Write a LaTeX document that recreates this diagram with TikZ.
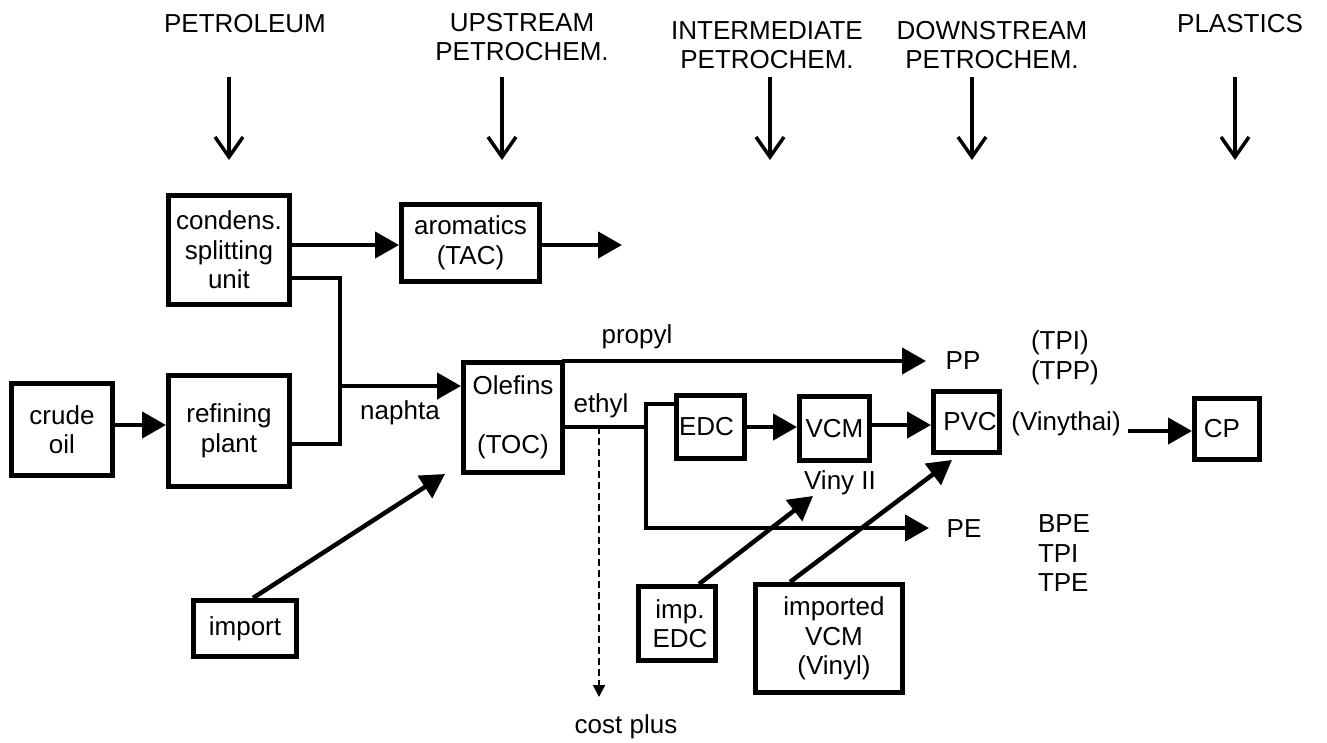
\documentclass[tikz,border=0pt]{standalone}
\usepackage{fontspec}
\setmainfont{Liberation Sans}
\usetikzlibrary{arrows.meta,calc}
\begin{document}
\begin{tikzpicture}[x=1pt,y=-1pt,
  every node/.style={font=\fontsize{26}{29.5}\selectfont, inner sep=0pt, outer sep=0pt},
  box/.style={draw, line width=5pt, align=center, outer sep=2.5pt},
  flow/.style={line width=4.5pt, -{Triangle[length=24pt,width=26pt]}},
  plain/.style={line width=4.5pt},
  hdr/.style={line width=3.5pt, -{Straight Barb[length=20pt,width=28pt]}},
  dashline/.style={line width=2pt, dash pattern=on 7pt off 4pt, -{Triangle[length=12pt,width=12pt]}}
]
\useasboundingbox (0,0) rectangle (1327,742);

% header
\node[anchor=base] (hpet) at (245,32) {PETROLEUM};
\node[align=center] (hup) at (522,37.2) {UPSTREAM\\PETROCHEM.};
\node[align=center] (hint) at (767,45.2) {INTERMEDIATE\\PETROCHEM.};
\node[align=center] (hdown) at (992,45.2) {DOWNSTREAM\\PETROCHEM.};
\node[anchor=base] (hpla) at (1240,32) {PLASTICS};
\foreach \n/\x in {a/229,b/502,c/770,d/972,e/1235}{
  \coordinate (t\n) at (\x,77);
  \coordinate (b\n) at (\x,160);
  \draw[hdr] (t\n) -- (b\n);
}

% boxes
\node[box, minimum width=121pt, minimum height=109pt] (condens) at (229,250) {condens.\\splitting\\unit};
\node[box, minimum width=138pt, minimum height=77pt] (arom) at (470.5,243) {aromatics\\(TAC)};
\node[box, minimum width=101pt, minimum height=92pt] (crude) at (62,429.5) {crude\\oil};
\node[box, minimum width=121pt, minimum height=111pt] (refining) at (229,431) {refining\\plant};
\node[box, minimum width=99pt, minimum height=110pt] (olefins) at (513,417.5) {Olefins\\[30pt](TOC)};
\node[box, minimum width=68pt, minimum height=63pt] (edc) at (710.5,427) {EDC\hspace*{8pt}};
\node[box, minimum width=70pt, minimum height=64pt] (vcm) at (834.5,428.5) {VCM};
\node[box, minimum width=66pt, minimum height=61pt] (pvc) at (966.5,422) {\hspace*{7pt}PVC};
\node[box, minimum width=65pt, minimum height=61pt] (cp) at (1227,429) {CP\hspace*{10pt}};
\node[box, minimum width=77pt, minimum height=74pt] (impedc) at (677,623.5) {\hspace*{6pt}imp.\\\hspace*{6pt}EDC};
\node[box, minimum width=147pt, minimum height=108pt] (impvcm) at (829,638.5) {\hspace*{10pt}imported\\\hspace*{10pt}VCM\\\hspace*{10pt}(Vinyl)};
\node[box, minimum width=103pt, minimum height=56pt] (import) at (245,628.5) {import};

% labels
\node (propyl) at (637,337) {propyl};
\node (ethyl) at (601,406) {ethyl};
\node (naphta) at (400,413) {naphta};
\node (pp) at (963,361) {PP};
\node (pe) at (964,529) {PE};
\node[anchor=west, align=left] (tpi) at (1031,358) {(TPI)\\(TPP)};
\node[anchor=west, align=left] (bpe) at (1038,553.5) {BPE\\TPI\\TPE};
\node (viny) at (840,483) {Viny II};
\node (vinythai) at (1066,424) {(Vinythai)};
\node (cost) at (626,727) {cost plus};

% coordinates
\coordinate (j1) at (340,386);
\coordinate (jE) at (646,427);
\coordinate (jD) at (599,427);
\coordinate (costTip) at (599,697);
\coordinate (ppTip) at (926,361);
\coordinate (peTip) at (929,528);
\coordinate (aromOut) at (622,245);
\coordinate (vinyTip) at (813,496);

% connectors
\draw[flow] (condens.east |- 0,245) -- (arom.west |- 0,245);
\draw[flow] (arom.east |- 0,245) -- (aromOut);
\draw[plain] (condens.east |- 0,278) -| (j1) |- (refining.east |- 0,444);
\draw[flow] (j1) -- (olefins.west |- j1);
\draw[flow] (crude.east |- 0,425) -- (refining.west |- 0,425);
\draw[flow] ($(olefins.north east)+(-3,1)$) -- (ppTip);
\draw[plain] (olefins.east |- jE) -- (jE);
\draw[flow] (edc.west |- 0,404) -| (jE) |- (peTip);
\draw[dashline] (jD) -- (costTip);
\draw[flow] (edc.east |- 0,427) -- (vcm.west |- 0,427);
\draw[flow] (vcm.east |- 0,425) -- (pvc.west |- 0,425);
\draw[flow] ($(vinythai.east)+(7,7)$) -- (cp.west |- 0,431);
\draw[flow] ($(impedc.north)+(22,0)$) -- (vinyTip);
\draw[flow] ($(impvcm.north)+(-39,0)$) -- ($(pvc.south)+(-14.5,5)$);
\draw[flow] ($(import.north)+(8,0)$) -- ($(olefins.south west)+(-16,-1)$);
\end{tikzpicture}
\end{document}
